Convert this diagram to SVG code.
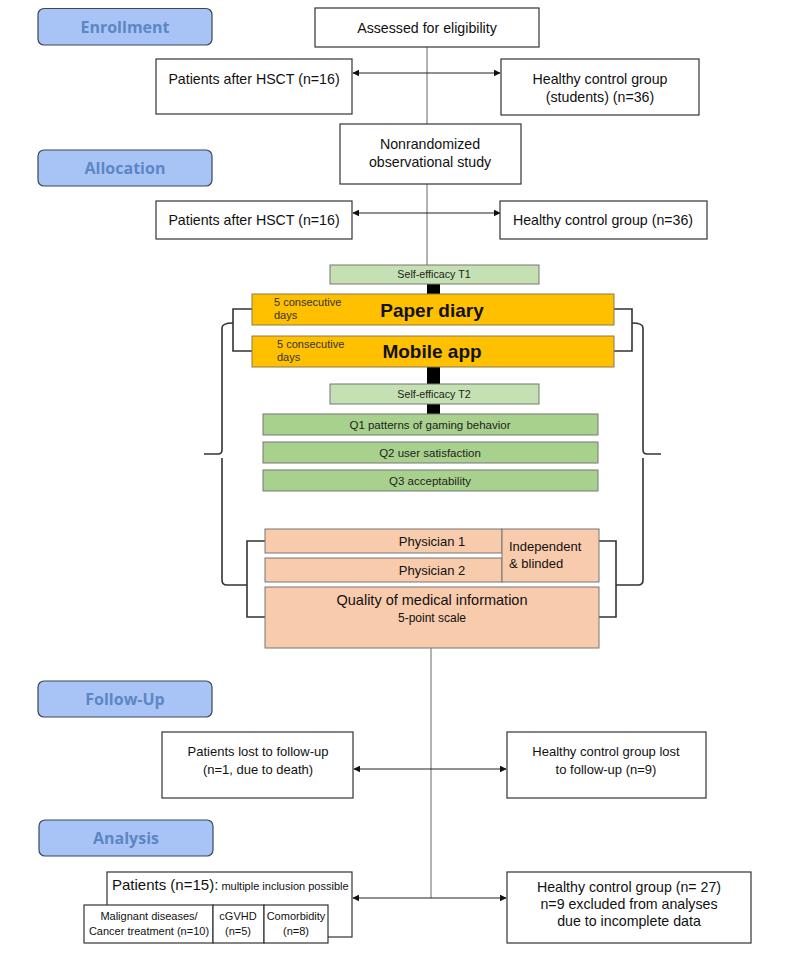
<svg xmlns="http://www.w3.org/2000/svg" width="794" height="953" viewBox="0 0 794 953">
<style>
.phase rect{fill:#a8c4f6;stroke:#3c4656;stroke-width:1.2}
.phase text{font-family:"Open Sans","DejaVu Sans",sans-serif;font-weight:bold;font-size:16px;fill:#5d86c5;text-anchor:middle}
.box{fill:#fff;stroke:#333;stroke-width:1.2}
.t{font-family:"Liberation Sans",Arial,sans-serif;font-size:14.2px;fill:#111;text-anchor:middle}
.n{font-family:"Liberation Sans",Arial,sans-serif;font-size:13px;fill:#111;text-anchor:middle}
.lg{fill:#c5e0b3;stroke:#777;stroke-width:1}
.g{fill:#a9d18e;stroke:#777;stroke-width:1}
.o{fill:#ffc000;stroke:#8a7a4a;stroke-width:1}
.p{fill:#f8cbad;stroke:#777;stroke-width:1}
.s{font-family:"Liberation Sans",Arial,sans-serif;font-size:10.7px;fill:#222;text-anchor:middle}
.q{font-family:"Liberation Sans",Arial,sans-serif;font-size:11.5px;fill:#222;text-anchor:middle}
.d{font-family:"Liberation Sans",Arial,sans-serif;font-size:11px;fill:#333}
.big{font-family:"Liberation Sans",Arial,sans-serif;font-size:19px;font-weight:bold;fill:#111;text-anchor:middle}
.sm{font-family:"Liberation Sans",Arial,sans-serif;font-size:11px;fill:#111;text-anchor:middle}
.vl{stroke:#808080;stroke-width:1.2;fill:none}
.ar{stroke:#222;stroke-width:1.2;fill:none;marker-start:url(#a);marker-end:url(#a)}
.br{stroke:#333;stroke-width:1.6;fill:none}
.bar{fill:#000}
</style>
<defs>
<marker id="a" viewBox="0 0 10 10" refX="9" refY="5" markerWidth="7" markerHeight="7" orient="auto-start-reverse" markerUnits="userSpaceOnUse">
<path d="M0,0 L10,5 L0,10 z" fill="#111"/>
</marker>
</defs>

<g id="phase-enrollment" class="phase"><rect x="38" y="8.5" width="174" height="36.5" rx="6"/><text x="125" y="33">Enrollment</text></g>
<g id="phase-allocation" class="phase"><rect x="38" y="150" width="174" height="36" rx="6"/><text x="125" y="174">Allocation</text></g>
<g id="phase-followup" class="phase"><rect x="38" y="681" width="174" height="36" rx="6"/><text x="125" y="705">Follow-Up</text></g>
<g id="phase-analysis" class="phase"><rect x="39" y="820" width="174" height="36" rx="6"/><text x="126" y="844">Analysis</text></g>

<g id="connectors">
<line class="vl" x1="427" y1="47" x2="427" y2="124"/>
<line class="vl" x1="427" y1="184" x2="427" y2="265"/>
<line class="vl" x1="431" y1="648" x2="431" y2="898"/>
<line class="ar" x1="353" y1="73" x2="500" y2="73"/>
<line class="ar" x1="353" y1="213" x2="500" y2="213"/>
<line class="ar" x1="354" y1="769" x2="506" y2="769"/>
<line class="ar" x1="353" y1="898" x2="506" y2="898"/>
<rect class="bar" x="427" y="284" width="13" height="10"/>
<rect class="bar" x="427" y="367" width="13" height="17"/>
<rect class="bar" x="427" y="404" width="13" height="10"/>
<path class="br" d="M252,309 H233 V351 H252"/>
<path class="br" d="M614,309 H632 V351 H614"/>
<path class="br" d="M233,323 Q222,323 222,328 V450 Q222,454 218,454 H204 M222,458 V580 Q222,585 227,585 H247"/>
<path class="br" d="M632,323 Q643,323 643,328 V450 Q643,454 647,454 H661 M643,458 V580 Q643,585 638,585 H616"/>
<path class="br" d="M265,541 H247 V617 H265"/>
<path class="br" d="M599,541 H616 V617 H599"/>
</g>

<g id="assessed"><rect class="box" x="315" y="8" width="224" height="39"/><text class="t" x="427" y="33">Assessed for eligibility</text></g>
<g id="enroll-patients"><rect class="box" x="156" y="59" width="196" height="55"/><text class="t" x="254" y="84">Patients after HSCT (n=16)</text></g>
<g id="enroll-healthy"><rect class="box" x="501" y="59" width="198" height="56"/><text class="t" x="600" y="84">Healthy control group</text><text class="t" x="600" y="102">(students) (n=36)</text></g>
<g id="nonrandomized"><rect class="box" x="340" y="124" width="181" height="60"/><text class="t" x="430" y="149">Nonrandomized</text><text class="t" x="430" y="167">observational study</text></g>
<g id="alloc-patients"><rect class="box" x="156" y="201" width="196" height="38"/><text class="t" x="254" y="225">Patients after HSCT (n=16)</text></g>
<g id="alloc-healthy"><rect class="box" x="500" y="201" width="207" height="38"/><text class="t" x="603" y="225">Healthy control group (n=36)</text></g>

<g id="self-efficacy-t1"><rect class="lg" x="330" y="265" width="209" height="19"/><text class="s" x="434" y="278">Self-efficacy T1</text></g>
<g id="paper-diary"><rect class="o" x="252" y="294" width="362" height="31"/><text class="d" x="274" y="306">5 consecutive</text><text class="d" x="274" y="319">days</text><text class="big" x="432" y="317">Paper diary</text></g>
<g id="mobile-app"><rect class="o" x="252" y="336" width="362" height="31"/><text class="d" x="277" y="348">5 consecutive</text><text class="d" x="277" y="361">days</text><text class="big" x="432" y="358">Mobile app</text></g>
<g id="self-efficacy-t2"><rect class="lg" x="330" y="384" width="209" height="20"/><text class="s" x="434" y="398">Self-efficacy T2</text></g>
<g id="q1"><rect class="g" x="263" y="414" width="335" height="21"/><text class="q" x="430" y="429">Q1 patterns of gaming behavior</text></g>
<g id="q2"><rect class="g" x="263" y="442" width="335" height="21"/><text class="q" x="430" y="457">Q2 user satisfaction</text></g>
<g id="q3"><rect class="g" x="263" y="470" width="335" height="21"/><text class="q" x="430" y="485">Q3 acceptability</text></g>

<g id="physician-1"><rect class="p" x="265" y="529" width="237" height="24"/><text class="n" x="432" y="546">Physician 1</text></g>
<g id="physician-2"><rect class="p" x="265" y="558" width="237" height="24"/><text class="n" x="432" y="575">Physician 2</text></g>
<g id="independent"><rect class="p" x="502" y="529" width="97" height="53"/><text class="n" x="509" y="551" style="text-anchor:start">Independent</text><text class="n" x="509" y="568" style="text-anchor:start">&amp; blinded</text></g>
<g id="quality"><rect class="p" x="265" y="587" width="334" height="61"/><text class="t" x="432" y="605" style="font-size:14.5px">Quality of medical information</text><text class="n" x="432" y="622" style="font-size:12px">5-point scale</text></g>

<g id="followup-patients"><rect class="box" x="162" y="732" width="191" height="66"/><text class="n" x="258" y="756">Patients lost to follow-up</text><text class="n" x="258" y="774">(n=1, due to death)</text></g>
<g id="followup-healthy"><rect class="box" x="507" y="732" width="199" height="66"/><text class="n" x="606" y="756">Healthy control group lost</text><text class="n" x="606" y="774">to follow-up (n=9)</text></g>

<g id="analysis-patients">
<rect class="box" x="107" y="872" width="245" height="65"/>
<text x="112" y="890" style="font-family:'Liberation Sans',Arial,sans-serif;font-size:15px;fill:#111">Patients (n=15)<tspan>:</tspan><tspan style="font-size:11px"> multiple inclusion possible</tspan></text>
<rect class="box" x="84" y="905" width="129" height="38"/>
<text class="sm" x="149" y="920">Malignant diseases/</text><text class="sm" x="149" y="935">Cancer treatment (n=10)</text>
<rect class="box" x="213" y="905" width="51" height="38"/>
<text class="sm" x="238" y="920">cGVHD</text><text class="sm" x="238" y="935">(n=5)</text>
<rect class="box" x="264" y="905" width="64" height="38"/>
<text class="sm" x="296" y="920">Comorbidity</text><text class="sm" x="296" y="935">(n=8)</text>
</g>
<g id="analysis-healthy"><rect class="box" x="507" y="872" width="244" height="71"/><text class="t" x="629" y="892">Healthy control group (n= 27)</text><text class="t" x="629" y="909">n=9 excluded from analyses</text><text class="t" x="629" y="926">due to incomplete data</text></g>
</svg>
